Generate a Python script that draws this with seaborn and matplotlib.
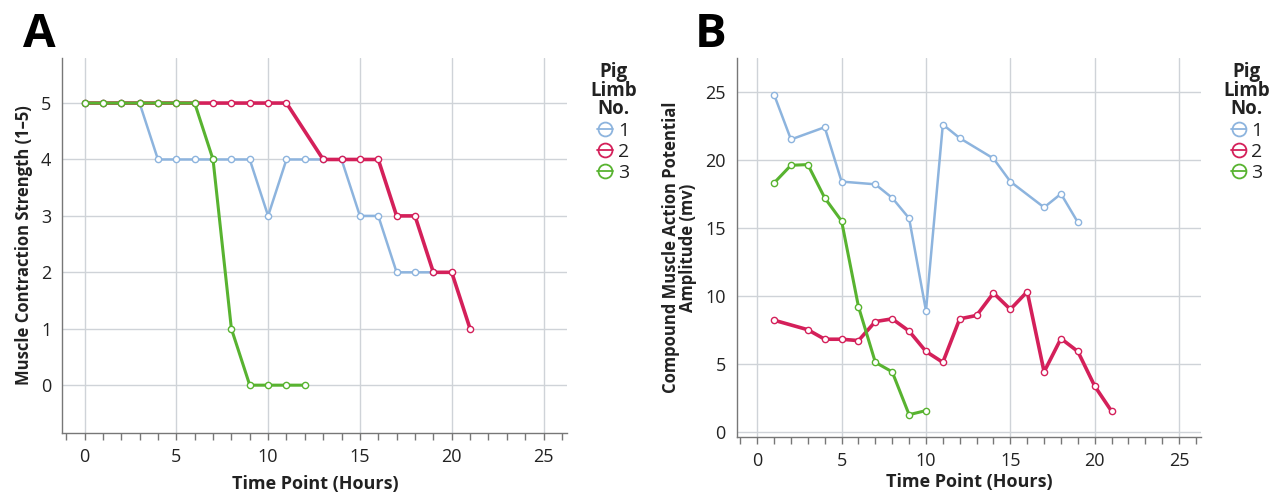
import matplotlib
matplotlib.use("Agg")
import matplotlib.pyplot as plt
import seaborn as sns
import pandas as pd
import numpy as np
from matplotlib.lines import Line2D
from matplotlib.ticker import MultipleLocator

# ---------------- data ----------------
limbs = ["1", "2", "3"]

# Panel A: muscle contraction strength
a1_time = [0, 1, 2, 3, 4, 5, 6, 7, 8, 9, 10, 11, 12, 13, 14, 15, 16, 17, 18, 19]
a1_val = [5, 5, 5, 5, 4, 4, 4, 4, 4, 4, 3, 4, 4, 4, 4, 3, 3, 2, 2, 2]
a2_time = [0, 1, 2, 3, 4, 5, 6, 7, 8, 9, 10, 11, 13, 14, 15, 16, 17, 18, 19, 20, 21]
a2_val = [5, 5, 5, 5, 5, 5, 5, 5, 5, 5, 5, 5, 4, 4, 4, 4, 3, 3, 2, 2, 1]
a3_time = [0, 1, 2, 3, 4, 5, 6, 7, 8, 9, 10, 11, 12]
a3_val = [5, 5, 5, 5, 5, 5, 5, 4, 1, 0, 0, 0, 0]

# Panel B: compound muscle action potential amplitude (mV)
b1_time = [1, 2, 4, 5, 7, 8, 9, 10, 11, 12, 14, 15, 17, 18, 19]
b1_val = [24.8, 21.5, 22.4, 18.4, 18.2, 17.2, 15.7, 8.9, 22.6, 21.6, 20.1, 18.4, 16.5, 17.5, 15.4]
b2_time = [1, 3, 4, 5, 6, 7, 8, 9, 10, 11, 12, 13, 14, 15, 16, 17, 18, 19, 20, 21]
b2_val = [8.2, 7.5, 6.8, 6.8, 6.7, 8.1, 8.3, 7.4, 5.9, 5.1, 8.3, 8.55, 10.2, 9.0, 10.3, 4.4, 6.85, 5.9, 3.35, 1.5]
b3_time = [1, 2, 3, 4, 5, 6, 7, 8, 9, 10]
b3_val = [18.3, 19.6, 19.65, 17.2, 15.5, 9.2, 5.1, 4.4, 1.25, 1.55]

x_ticks = [0, 5, 10, 15, 20, 25]
a_yticks = [0, 1, 2, 3, 4, 5]
b_yticks = [0, 5, 10, 15, 20, 25]

colors = {"1": "#8db4de", "2": "#d4205a", "3": "#58b330"}
widths = {"1": 1.8, "2": 2.6, "3": 2.2}


def long_df(series):
    rows = []
    for limb, (t, v) in zip(limbs, series):
        for ti, vi in zip(t, v):
            rows.append({"Time": ti, "Value": vi, "Limb": limb})
    return pd.DataFrame(rows)


dfA = long_df([(a1_time, a1_val), (a2_time, a2_val), (a3_time, a3_val)])
dfB = long_df([(b1_time, b1_val), (b2_time, b2_val), (b3_time, b3_val)])

sns.set_theme(style="white")
plt.rcParams["font.family"] = ["Open Sans", "DejaVu Sans"]

fig = plt.figure(figsize=(12.75, 4.95), dpi=100)
axA = fig.add_axes([0.049, 0.125, 0.396, 0.758])
axB = fig.add_axes([0.578, 0.117, 0.364, 0.766])

txt = "#222222"
grid_c = "#cfd3d8"


def draw(ax, df, ylim, yticks, ylabel, xlabelpad):
    for limb in limbs:
        sub = df[df["Limb"] == limb]
        sns.lineplot(data=sub, x="Time", y="Value", ax=ax, color=colors[limb],
                     lw=widths[limb], marker="o", markersize=4.5,
                     markerfacecolor="white", markeredgecolor=colors[limb],
                     markeredgewidth=1.0, legend=False, zorder=3 if limb != "1" else 2)
    ax.set_xlim(-1.2, 26.3)
    ax.set_ylim(*ylim)
    ax.set_xticks(x_ticks)
    ax.xaxis.set_minor_locator(MultipleLocator(1))
    ax.set_yticks(yticks)
    ax.grid(True, which="major", color=grid_c, lw=1.0)
    ax.set_axisbelow(True)
    for s in ["top", "right"]:
        ax.spines[s].set_visible(False)
    for s in ["left", "bottom"]:
        ax.spines[s].set_color("#777777")
        ax.spines[s].set_linewidth(1.0)
    ax.tick_params(axis="x", which="both", bottom=True, length=5, width=1.0,
                   color="#777777", labelsize=13, labelcolor=txt, pad=6)
    ax.tick_params(axis="y", length=0, labelsize=13, labelcolor=txt, pad=8)
    ax.set_xlabel("Time Point (Hours)", fontsize=13, fontweight="bold", color=txt,
                  labelpad=xlabelpad)
    ax.set_ylabel(ylabel, fontsize=12, fontweight="bold", color=txt, labelpad=6,
                  linespacing=0.95)
    handles = [Line2D([0], [0], color=colors[l], lw=1.3, marker="o", markersize=10,
                      markerfacecolor="none", markeredgecolor=colors[l],
                      markeredgewidth=1.3) for l in limbs]
    leg = ax.legend(handles, limbs, title="Pig\nLimb\nNo.", loc="upper left",
                    bbox_to_anchor=(1.01, 1.035), frameon=False, handlelength=0.8,
                    handletextpad=0.25, labelspacing=0.15, fontsize=14,
                    alignment="center",
                    title_fontproperties={"weight": "bold", "size": 13.5})
    leg.get_title().set_linespacing(0.9)
    leg.get_title().set_multialignment("center")
    leg.get_title().set_color(txt)
    for t in leg.get_texts():
        t.set_color(txt)


draw(axA, dfA, (-0.85, 5.8), a_yticks, "Muscle Contraction Strength (1\u20135)", 6)
draw(axB, dfB, (-0.4, 27.5), b_yticks,
     "Compound Muscle Action Potential\nAmplitude (mv)", 2)

fig.text(0.018, 0.905, "A", fontsize=34, fontweight="bold", color="black")
fig.text(0.545, 0.905, "B", fontsize=34, fontweight="bold", color="black")

fig.savefig("out.png", dpi=100)
